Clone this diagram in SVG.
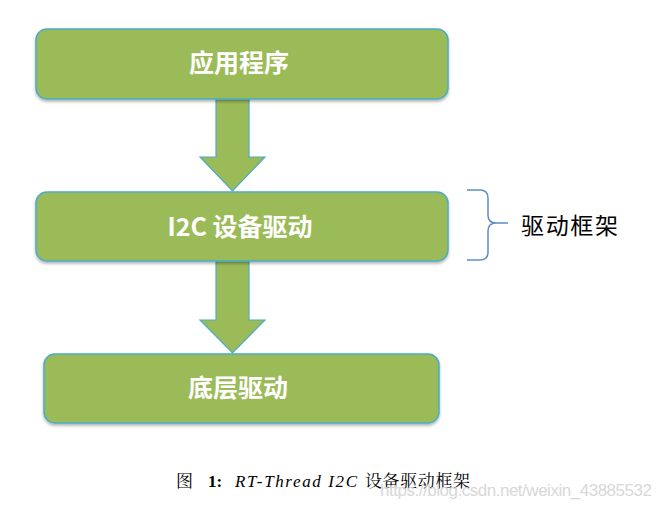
<svg xmlns="http://www.w3.org/2000/svg" width="661" height="509" viewBox="0 0 661 509">
<style>
.box{fill:#9bbb59;stroke:#4bacc6;stroke-width:1.5}
.arr{fill:#9bbb59;stroke:#4bacc6;stroke-width:1.2;stroke-linejoin:miter}
.lbl{font-family:"Noto Sans CJK SC","Liberation Sans",sans-serif;font-weight:bold;font-size:25px;fill:#ffffff;text-anchor:middle}
.side{font-family:"Noto Sans CJK SC",sans-serif;font-size:23px;fill:#000000}
.cap{font-family:"Liberation Serif","Noto Serif CJK SC","Noto Sans CJK SC",serif;font-size:17px;fill:#000000}
</style>
<defs>
<filter id="sh" x="-5%" y="-10%" width="110%" height="130%">
<feDropShadow dx="0" dy="2" stdDeviation="1.5" flood-color="#000000" flood-opacity="0.3"/>
</filter>
</defs>
<rect width="661" height="509" fill="#ffffff"/>
<g id="connectors">
<path class="arr" d="M216,99 L249,99 L249,157 L265,157 L232.5,191 L200,157 L216,157 Z"/>
<path class="arr" d="M216,261 L249,261 L249,320 L265,320 L232.5,353 L200,320 L216,320 Z"/>
</g>
<g id="app">
<rect class="box" x="36" y="29" width="412" height="70" rx="11" filter="url(#sh)"/>
<text class="lbl" x="239" y="72">应用程序</text>
</g>
<g id="i2c">
<rect class="box" x="36" y="192" width="412" height="69" rx="11" filter="url(#sh)"/>
<text class="lbl" x="240" y="236">I2C 设备驱动</text>
</g>
<g id="low">
<rect class="box" x="44" y="354" width="395" height="69" rx="11" filter="url(#sh)"/>
<text class="lbl" x="238" y="397">底层驱动</text>
</g>
<g id="brace">
<path d="M467,190 L480,190 Q488,190 488,198 L488,215 Q488,223 496,223 L508,223 M496,223 Q488,223 488,231 L488,252 Q488,260 480,260 L467,260" fill="none" stroke="#5b8fc7" stroke-width="1.5"/>
<text class="side" x="521" y="234" textLength="97">驱动框架</text>
</g>
<g id="caption">
<text class="cap" x="176" y="487">图</text>
<text class="cap" x="208" y="487" font-weight="bold">1:</text>
<text class="cap" x="235" y="487" font-style="italic" textLength="122">RT-Thread I2C</text>
<text class="cap" x="365" y="487" font-family="Noto Sans CJK SC,sans-serif" font-size="17" textLength="105">设备驱动框架</text>
</g>
<text x="380" y="496" font-family="Liberation Sans,sans-serif" font-size="17" fill="#d8d8d8" textLength="272">https://blog.csdn.net/weixin_43885532</text>
</svg>
